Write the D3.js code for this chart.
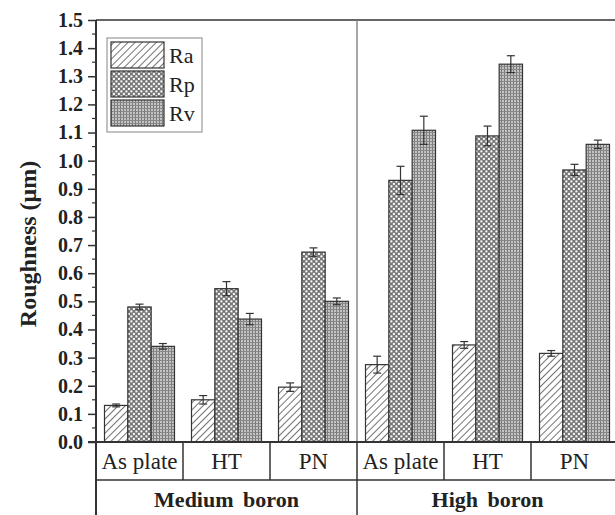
<!DOCTYPE html>
<html>
<head>
<meta charset="utf-8">
<script src="https://cdn.jsdelivr.net/npm/d3@7"></script>
<style>
  body { margin: 0; background: #fff; }
  text { font-family: "Liberation Serif", "Times New Roman", serif; fill: #222; }
</style>
</head>
<body>
<div id="chart"></div>
<script>
// data
const groups = ["Medium boron", "High boron"];
const treatments = ["As plate", "HT", "PN"];
const series = ["Ra", "Rp", "Rv"];
const raValues = [0.13, 0.15, 0.195, 0.275, 0.345, 0.315];
const rpValues = [0.48, 0.545, 0.675, 0.93, 1.088, 0.967];
const rvValues = [0.34, 0.437, 0.50, 1.108, 1.343, 1.058];
const raErrors = [0.005, 0.015, 0.015, 0.03, 0.012, 0.01];
const rpErrors = [0.01, 0.025, 0.015, 0.05, 0.035, 0.02];
const rvErrors = [0.01, 0.02, 0.012, 0.05, 0.03, 0.015];
const yTicks = [0, 0.1, 0.2, 0.3, 0.4, 0.5, 0.6, 0.7, 0.8, 0.9, 1.0, 1.1, 1.2, 1.3, 1.4, 1.5];

const width = 615, height = 515;
const mLeft = 96, mTop = 20, mBottom = 442, mRight = 618;
const rowLine = 480;

const svg = d3.select('#chart').append('svg')
  .attr('width', width)
  .attr('height', height);

// hatch patterns
const defs = svg.append('defs');
const pRa = defs.append('pattern').attr('id', 'pRa')
  .attr('patternUnits', 'userSpaceOnUse').attr('width', 5).attr('height', 5)
  .attr('patternTransform', 'rotate(45)');
pRa.append('rect').attr('width', 5).attr('height', 5).attr('fill', '#fff');
pRa.append('line').attr('x1', 0).attr('y1', 0).attr('x2', 0).attr('y2', 5)
  .attr('stroke', '#444').attr('stroke-width', 1.5);

const pRp = defs.append('pattern').attr('id', 'pRp')
  .attr('patternUnits', 'userSpaceOnUse').attr('width', 5).attr('height', 5);
pRp.append('rect').attr('width', 5).attr('height', 5).attr('fill', '#777');
pRp.append('rect').attr('x', 0.4).attr('y', 0.4).attr('width', 2).attr('height', 2).attr('fill', '#fff');
pRp.append('rect').attr('x', 2.9).attr('y', 2.9).attr('width', 2).attr('height', 2).attr('fill', '#fff');

const pRv = defs.append('pattern').attr('id', 'pRv')
  .attr('patternUnits', 'userSpaceOnUse').attr('width', 3).attr('height', 3);
pRv.append('rect').attr('width', 3).attr('height', 3).attr('fill', '#c4c4c4');
pRv.append('line').attr('x1', 0.5).attr('y1', 0).attr('x2', 0.5).attr('y2', 3).attr('stroke', '#7a7a7a').attr('stroke-width', 1);
pRv.append('line').attr('x1', 0).attr('y1', 0.5).attr('x2', 3).attr('y2', 0.5).attr('stroke', '#888').attr('stroke-width', 1);

const fills = { Ra: 'url(#pRa)', Rp: 'url(#pRp)', Rv: 'url(#pRv)' };

const cats = [];
groups.forEach((g, gi) => treatments.forEach((t, ti) => cats.push({ id: gi * 3 + ti, group: g, treatment: t })));

const x = d3.scaleBand().domain(cats.map(d => d.id)).range([mLeft, mRight]).padding(0);
const xs = d3.scaleBand().domain(series).range([8.5, x.bandwidth() - 8.5]).padding(0);
const y = d3.scaleLinear().domain([0, 1.5]).range([mBottom, mTop]);

const valueSets = { Ra: raValues, Rp: rpValues, Rv: rvValues };
const errorSets = { Ra: raErrors, Rp: rpErrors, Rv: rvErrors };

const rows = [];
cats.forEach(c => series.forEach(s => rows.push({
  cat: c.id, s, v: valueSets[s][c.id], e: errorSets[s][c.id]
})));

// frame: top border and group divider
svg.append('line').attr('x1', mLeft).attr('x2', width).attr('y1', mTop).attr('y2', mTop)
  .attr('stroke', '#666').attr('stroke-width', 2);
svg.append('line').attr('x1', x(3)).attr('x2', x(3)).attr('y1', mTop).attr('y2', mBottom)
  .attr('stroke', '#888').attr('stroke-width', 1.5);

// bars
svg.append('g').selectAll('rect').data(rows).join('rect')
  .attr('x', d => x(d.cat) + xs(d.s))
  .attr('y', d => y(d.v))
  .attr('width', xs.bandwidth())
  .attr('height', d => y(0) - y(d.v))
  .attr('fill', d => fills[d.s])
  .attr('stroke', '#333')
  .attr('stroke-width', 1.2);

// error bars
const eb = svg.append('g').attr('stroke', '#333').attr('stroke-width', 1.2);
rows.forEach(d => {
  const cx = x(d.cat) + xs(d.s) + xs.bandwidth() / 2;
  eb.append('line').attr('x1', cx).attr('x2', cx).attr('y1', y(d.v - d.e)).attr('y2', y(d.v + d.e));
  eb.append('line').attr('x1', cx - 4).attr('x2', cx + 4).attr('y1', y(d.v + d.e)).attr('y2', y(d.v + d.e));
  eb.append('line').attr('x1', cx - 4).attr('x2', cx + 4).attr('y1', y(d.v - d.e)).attr('y2', y(d.v - d.e));
});

// y axis
const yAxis = svg.append('g').attr('transform', `translate(${mLeft},0)`)
  .call(d3.axisLeft(y).tickValues(yTicks).tickFormat(d3.format('.1f')).tickSize(8).tickPadding(5));
yAxis.select('.domain').remove();
yAxis.selectAll('line').attr('stroke', '#333').attr('stroke-width', 1.5);
yAxis.selectAll('text').attr('font-size', 20).attr('font-weight', 'bold')
  .style('font-family', '"Liberation Serif", serif').attr('fill', '#222');
// minor ticks
svg.append('g').selectAll('line').data(d3.range(0.05, 1.5, 0.1)).join('line')
  .attr('x1', mLeft - 4).attr('x2', mLeft).attr('y1', d => y(d)).attr('y2', d => y(d))
  .attr('stroke', '#333').attr('stroke-width', 1.2);
svg.append('line').attr('x1', mLeft).attr('x2', mLeft).attr('y1', mTop).attr('y2', height)
  .attr('stroke', '#333').attr('stroke-width', 2);

// x axis table
svg.append('line').attr('x1', mLeft - 8).attr('x2', width).attr('y1', mBottom).attr('y2', mBottom)
  .attr('stroke', '#333').attr('stroke-width', 2);
svg.append('line').attr('x1', mLeft).attr('x2', width).attr('y1', rowLine).attr('y2', rowLine)
  .attr('stroke', '#333').attr('stroke-width', 1.5);
cats.filter(c => c.id > 0).forEach(c => {
  svg.append('line').attr('x1', x(c.id)).attr('x2', x(c.id))
    .attr('y1', mBottom).attr('y2', c.id === 3 ? height : rowLine)
    .attr('stroke', '#333').attr('stroke-width', 1.5);
});
svg.append('g').selectAll('text').data(cats).join('text')
  .attr('x', d => x(d.id) + x.bandwidth() / 2)
  .attr('y', 469)
  .attr('text-anchor', 'middle')
  .attr('font-size', 23)
  .text(d => d.treatment);
svg.append('g').selectAll('text').data(groups).join('text')
  .attr('x', (d, i) => (x(i * 3) + x(i * 3 + 2) + x.bandwidth()) / 2)
  .attr('y', 507)
  .attr('text-anchor', 'middle')
  .attr('font-size', 22)
  .attr('font-weight', 'bold')
  .style('word-spacing', '4px')
  .text(d => d);

// y title
svg.append('text')
  .attr('transform', `translate(36,${(148 + 340) / 2}) rotate(-90)`)
  .attr('text-anchor', 'middle')
  .attr('font-size', 24)
  .attr('font-weight', 'bold')
  .text('Roughness (\u03bcm)');

// legend
const lg = svg.append('g');
lg.append('rect').attr('x', 107).attr('y', 38).attr('width', 95).attr('height', 94)
  .attr('fill', '#fff').attr('stroke', '#999').attr('stroke-width', 1.2);
series.forEach((s, i) => {
  const sy = 42 + i * 29;
  lg.append('rect').attr('x', 111).attr('y', sy).attr('width', 53).attr('height', 26)
    .attr('fill', fills[s]).attr('stroke', '#333').attr('stroke-width', 1.2);
  lg.append('text').attr('x', 169).attr('y', sy + 13).attr('dy', '0.35em')
    .attr('font-size', 22).text(s);
});
</script>
</body>
</html>
